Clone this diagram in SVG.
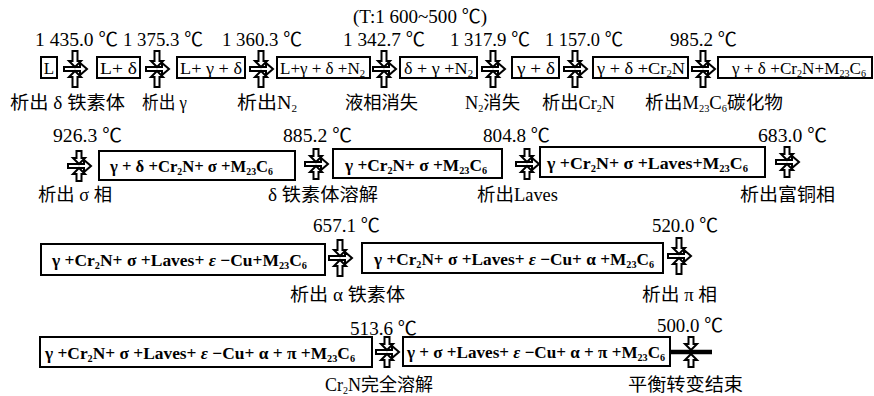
<svg xmlns="http://www.w3.org/2000/svg" width="874" height="396" viewBox="0 0 874 396">
<style>
.box{fill:none;stroke:#000;stroke-width:2}
.arw{fill:#fff;stroke:#000;stroke-width:2;stroke-linejoin:miter}
.b{font-family:"Liberation Serif","Noto Sans CJK SC",serif;font-size:17px;font-weight:bold;fill:#000}
.r{font-family:"Liberation Serif","Noto Sans CJK SC",serif;font-size:17px;fill:#000}
.t{font-family:"Liberation Serif","Noto Sans CJK SC",serif;font-size:19px;fill:#000}
.c{font-family:"Liberation Serif","Noto Sans CJK SC",serif;font-size:18px;fill:#000}
.s{font-size:10px}
</style>
<defs>
<g id="down"><path class="arw" d="M-2.5,-18 H2.5 V-8 H6 L0,-2 L-6,-8 H-2.5 Z"/></g>
<g id="up"><path class="arw" d="M-2.5,18 H2.5 V8 H6 L0,2 L-6,8 H-2.5 Z"/></g>
<g id="downS"><path class="arw" d="M-2.5,-15 H2.5 V-8 H6 L0,-2 L-6,-8 H-2.5 Z"/></g>
<g id="upS"><path class="arw" d="M-2.5,15 H2.5 V8 H6 L0,2 L-6,8 H-2.5 Z"/></g>
<g id="harr"><path class="arw" d="M-11,-2 H5 V-6 L12,0 L5,6 V2 H-11 Z"/></g>
<g id="arr"><use href="#harr"/><use href="#down"/><use href="#up"/></g>
<g id="arrS"><use href="#harr"/><use href="#downS"/><use href="#upS"/></g>
</defs>
<rect width="874" height="396" fill="#fff"/>
<text class="t" x="353" y="23" textLength="134" lengthAdjust="spacingAndGlyphs">(T:1 600~500 ℃)</text>

<!-- nodes row 1 -->
<g id="n1"><rect class="box" x="41" y="57" width="16" height="21"/><text class="r" x="49" y="74" text-anchor="middle">L</text></g>
<g id="n2"><rect class="box" x="97" y="57" width="43" height="21"/><text class="r" x="100" y="74" textLength="37" lengthAdjust="spacingAndGlyphs">L+ δ</text></g>
<g id="n3"><rect class="box" x="177" y="57" width="68" height="21"/><text class="r" x="180" y="74" textLength="62" lengthAdjust="spacingAndGlyphs">L+ γ + δ</text></g>
<g id="n4"><rect class="box" x="277" y="57" width="93" height="21"/><text class="r" x="280" y="74" style="font-size:16px" textLength="85" lengthAdjust="spacingAndGlyphs">L+γ + δ +N<tspan class="s" dy="3">2</tspan></text></g>
<g id="n5"><rect class="box" x="400" y="57" width="77" height="21"/><text class="r" x="404" y="74" textLength="69" lengthAdjust="spacingAndGlyphs">δ + γ +N<tspan class="s" dy="3">2</tspan></text></g>
<g id="n6"><rect class="box" x="512" y="57" width="47" height="21"/><text class="r" x="517" y="74" textLength="38" lengthAdjust="spacingAndGlyphs">γ + δ</text></g>
<g id="n7"><rect class="box" x="593" y="57" width="95" height="21"/><text class="r" x="597" y="74" textLength="88" lengthAdjust="spacingAndGlyphs">γ + δ +Cr<tspan class="s" dy="3">2</tspan><tspan dy="-3">N</tspan></text></g>
<g id="n8"><rect class="box" x="718" y="57" width="154" height="21"/><text class="r" x="732" y="74" textLength="134" lengthAdjust="spacingAndGlyphs">γ + δ +Cr<tspan class="s" dy="3">2</tspan><tspan dy="-3">N+M</tspan><tspan class="s" dy="3">23</tspan><tspan dy="-3">C</tspan><tspan class="s" dy="3">6</tspan></text></g>

<!-- nodes row 2 -->
<g id="n9"><rect class="box" x="99" y="151" width="196" height="29"/><text class="b" x="110" y="172" textLength="163" lengthAdjust="spacingAndGlyphs">γ + δ +Cr<tspan class="s" dy="3">2</tspan><tspan dy="-3">N+ σ +M</tspan><tspan class="s" dy="3">23</tspan><tspan dy="-3">C</tspan><tspan class="s" dy="3">6</tspan></text></g>
<g id="n10"><rect class="box" x="333" y="149" width="169" height="29"/><text class="b" x="345" y="171" textLength="142" lengthAdjust="spacingAndGlyphs">γ +Cr<tspan class="s" dy="3">2</tspan><tspan dy="-3">N+ σ +M</tspan><tspan class="s" dy="3">23</tspan><tspan dy="-3">C</tspan><tspan class="s" dy="3">6</tspan></text></g>
<g id="n11"><rect class="box" x="540" y="147" width="225" height="30"/><text class="b" x="547" y="169" textLength="201" lengthAdjust="spacingAndGlyphs">γ +Cr<tspan class="s" dy="3">2</tspan><tspan dy="-3">N+ σ +Laves+M</tspan><tspan class="s" dy="3">23</tspan><tspan dy="-3">C</tspan><tspan class="s" dy="3">6</tspan></text></g>

<!-- nodes row 3 -->
<g id="n12"><rect class="box" x="41" y="244" width="284" height="31"/><text class="b" x="52" y="266" textLength="255" lengthAdjust="spacingAndGlyphs">γ +Cr<tspan class="s" dy="3">2</tspan><tspan dy="-3">N+ σ +Laves+ </tspan><tspan font-style="italic">ε</tspan> −Cu+M<tspan class="s" dy="3">23</tspan><tspan dy="-3">C</tspan><tspan class="s" dy="3">6</tspan></text></g>
<g id="n13"><rect class="box" x="362" y="243" width="301" height="30"/><text class="b" x="374" y="265" textLength="280" lengthAdjust="spacingAndGlyphs">γ +Cr<tspan class="s" dy="3">2</tspan><tspan dy="-3">N+ σ +Laves+ </tspan><tspan font-style="italic">ε</tspan> −Cu+ α +M<tspan class="s" dy="3">23</tspan><tspan dy="-3">C</tspan><tspan class="s" dy="3">6</tspan></text></g>

<!-- nodes row 4 -->
<g id="n14"><rect class="box" x="40" y="337" width="332" height="30"/><text class="b" x="45" y="359" textLength="310" lengthAdjust="spacingAndGlyphs">γ +Cr<tspan class="s" dy="3">2</tspan><tspan dy="-3">N+ σ +Laves+ </tspan><tspan font-style="italic">ε</tspan> −Cu+ α + π +M<tspan class="s" dy="3">23</tspan><tspan dy="-3">C</tspan><tspan class="s" dy="3">6</tspan></text></g>
<g id="n15"><rect class="box" x="403" y="337" width="267" height="29"/><text class="b" x="407" y="358" textLength="258" lengthAdjust="spacingAndGlyphs">γ + σ +Laves+ <tspan font-style="italic">ε</tspan> −Cu+ α + π +M<tspan class="s" dy="3">23</tspan><tspan dy="-3">C</tspan><tspan class="s" dy="3">6</tspan></text></g>

<!-- connectors with labels -->
<g id="connectors">
<g id="c1"><use href="#arr" x="75" y="69"/>
<text class="t" x="35" y="46" textLength="83" lengthAdjust="spacingAndGlyphs">1 435.0 ℃</text>
<text class="c" x="10" y="109" textLength="115" lengthAdjust="spacingAndGlyphs">析出 δ 铁素体</text></g>
<g id="c2"><use href="#arr" x="157" y="69"/>
<text class="t" x="123" y="46" textLength="80" lengthAdjust="spacingAndGlyphs">1 375.3 ℃</text>
<text class="c" x="142" y="109" textLength="45" lengthAdjust="spacingAndGlyphs">析出 γ</text></g>
<g id="c3"><use href="#arr" x="261" y="69"/>
<text class="t" x="222" y="46" textLength="80" lengthAdjust="spacingAndGlyphs">1 360.3 ℃</text>
<text class="c" x="237" y="109" textLength="60" lengthAdjust="spacingAndGlyphs">析出N<tspan class="s" dy="3">2</tspan></text></g>
<g id="c4"><use href="#arr" x="384" y="69"/>
<text class="t" x="343" y="46" textLength="82" lengthAdjust="spacingAndGlyphs">1 342.7 ℃</text>
<text class="c" x="345" y="109" textLength="73" lengthAdjust="spacingAndGlyphs">液相消失</text></g>
<g id="c5"><use href="#arr" x="493" y="69"/>
<text class="t" x="450" y="46" textLength="80" lengthAdjust="spacingAndGlyphs">1 317.9 ℃</text>
<text class="c" x="465" y="109" textLength="55" lengthAdjust="spacingAndGlyphs">N<tspan class="s" dy="3">2</tspan><tspan dy="-3">消失</tspan></text></g>
<g id="c6"><use href="#arr" x="575" y="69"/>
<text class="t" x="545" y="46" textLength="78" lengthAdjust="spacingAndGlyphs">1 157.0 ℃</text>
<text class="c" x="542" y="109" textLength="73" lengthAdjust="spacingAndGlyphs">析出Cr<tspan class="s" dy="3">2</tspan><tspan dy="-3">N</tspan></text></g>
<g id="c7"><use href="#arr" x="703" y="69"/>
<text class="t" x="670" y="46" textLength="67" lengthAdjust="spacingAndGlyphs">985.2 ℃</text>
<text class="c" x="645" y="109" textLength="138" lengthAdjust="spacingAndGlyphs">析出M<tspan class="s" dy="3">23</tspan><tspan dy="-3">C</tspan><tspan class="s" dy="3">6</tspan><tspan dy="-3">碳化物</tspan></text></g>

<g id="c8"><use href="#arrS" x="79" y="166"/>
<text class="t" x="53" y="142" textLength="69" lengthAdjust="spacingAndGlyphs">926.3 ℃</text>
<text class="c" x="38" y="201" textLength="74" lengthAdjust="spacingAndGlyphs">析出 σ 相</text></g>
<g id="c9"><use href="#arrS" x="316" y="164"/>
<text class="t" x="283" y="142" textLength="69" lengthAdjust="spacingAndGlyphs">885.2 ℃</text>
<text class="c" x="268" y="201" textLength="110" lengthAdjust="spacingAndGlyphs">δ 铁素体溶解</text></g>
<g id="c10"><use href="#arrS" x="527" y="164"/>
<text class="t" x="483" y="142" textLength="67" lengthAdjust="spacingAndGlyphs">804.8 ℃</text>
<text class="c" x="477" y="201" textLength="81" lengthAdjust="spacingAndGlyphs">析出Laves</text></g>
<g id="c11"><use href="#arrS" x="787" y="162"/>
<text class="t" x="758" y="142" textLength="69" lengthAdjust="spacingAndGlyphs">683.0 ℃</text>
<text class="c" x="740" y="201" textLength="95" lengthAdjust="spacingAndGlyphs">析出富铜相</text></g>

<g id="c12"><use href="#arr" x="340" y="258"/>
<text class="t" x="313" y="232" textLength="67" lengthAdjust="spacingAndGlyphs">657.1 ℃</text>
<text class="c" x="290" y="301" textLength="115" lengthAdjust="spacingAndGlyphs">析出 α 铁素体</text></g>
<g id="c13"><use href="#arr" x="679" y="256"/>
<text class="t" x="652" y="232" textLength="66" lengthAdjust="spacingAndGlyphs">520.0 ℃</text>
<text class="c" x="642" y="301" textLength="75" lengthAdjust="spacingAndGlyphs">析出 π 相</text></g>

<g id="c14"><use href="#arrS" x="387" y="352"/>
<text class="t" x="350" y="335" textLength="67" lengthAdjust="spacingAndGlyphs">513.6 ℃</text>
<text class="c" x="325" y="391" textLength="108" lengthAdjust="spacingAndGlyphs">Cr<tspan class="s" dy="3">2</tspan><tspan dy="-3">N完全溶解</tspan></text></g>
<g id="c15">
<use href="#downS" x="691" y="352"/>
<use href="#upS" x="691" y="352"/>
<path d="M670,352 H712" stroke="#000" stroke-width="4.5"/>
<text class="t" x="657" y="332" textLength="66" lengthAdjust="spacingAndGlyphs">500.0 ℃</text>
<text class="c" x="628" y="391" textLength="115" lengthAdjust="spacingAndGlyphs">平衡转变结束</text></g>
</g>
</svg>
